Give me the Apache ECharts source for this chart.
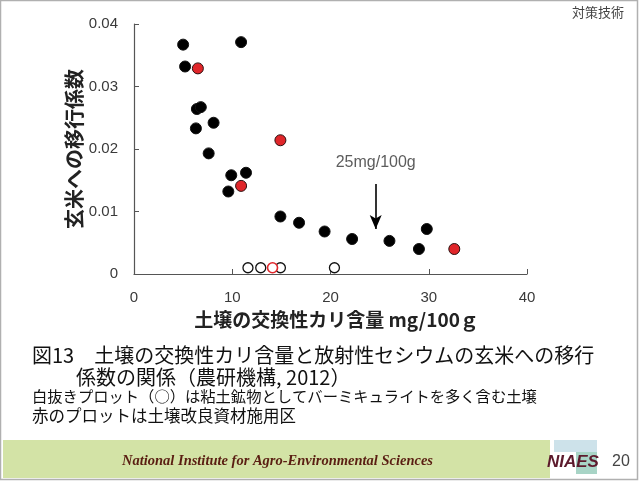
<!DOCTYPE html>
<html><head><meta charset="utf-8">
<script src="https://cdn.jsdelivr.net/npm/echarts@6/dist/echarts.min.js"></script>
<style>html,body{margin:0;padding:0;background:#fff}#c{width:640px;height:481px}</style>
</head><body><div id="c"></div>
<script>
// Data
const blackX = [5.0, 5.2, 10.9, 6.4, 6.8, 6.3, 8.1, 7.6, 9.9, 11.4, 9.6, 14.9, 16.8, 19.4, 22.2, 26.0, 29.0, 29.8];
const blackY = [0.0367, 0.0332, 0.0371, 0.0264, 0.0267, 0.0233, 0.0242, 0.0193, 0.0158, 0.0162, 0.0132, 0.0092, 0.0082, 0.0068, 0.0056, 0.0053, 0.0040, 0.0072];
const redX = [6.5, 10.9, 14.9, 32.6];
const redY = [0.0329, 0.0141, 0.0214, 0.0040];
const openX = [11.6, 12.9, 14.9, 20.4];
const openY = [0.0010, 0.0010, 0.0010, 0.0010];
const openRedX = [14.1];
const openRedY = [0.0010];
const arrowX = 24.6, arrowTop = 0.0144, arrowBottom = 0.0072;
const arrowLabel = '25mg/100g', arrowLabelY = 0.0178;
const xTicks = [0, 10, 20, 30, 40];
const yTicks = [0, 0.01, 0.02, 0.03, 0.04];

const zip = (xs, ys) => xs.map((x, i) => [x, ys[i]]);
const jp = '"Noto Sans CJK JP", "Noto Sans", sans-serif';
const chart = echarts.init(document.getElementById('c'));
chart.setOption({
  animation: false,
  grid: {left: 134, right: 113, top: 24, bottom: 207},
  xAxis: {
    type: 'value', min: 0, max: 40, interval: 10,
    name: '土壌の交換性カリ含量 mg/100ｇ', nameLocation: 'middle', nameGap: 36,
    nameTextStyle: {fontFamily: jp, fontSize: 19, fontWeight: 'bold', color: '#222', padding: [0, 0, 0, 12]},
    axisLine: {lineStyle: {color: '#555', width: 1.2}},
    axisTick: {inside: true, length: 5, lineStyle: {color: '#555'}},
    axisLabel: {color: '#3a3a3a', fontSize: 15, margin: 16, fontFamily: 'Liberation Sans, sans-serif', formatter: v => xTicks.includes(v) ? String(v) : ''},
    splitLine: {show: false}
  },
  yAxis: {
    type: 'value', min: 0, max: 0.04, interval: 0.01,
    name: '玄米への移行係数', nameLocation: 'middle', nameGap: 50, nameRotate: 90, nameMoveOverlap: false,
    nameTextStyle: {fontFamily: jp, fontSize: 20, fontWeight: 'bold', color: '#222'},
    axisLine: {show: true, lineStyle: {color: '#555', width: 1.2}},
    axisTick: {show: true, inside: true, length: 5, lineStyle: {color: '#555'}},
    axisLabel: {color: '#3a3a3a', fontSize: 15, margin: 16, fontFamily: 'Liberation Sans, sans-serif',
      formatter: v => { const t = yTicks.find(k => Math.abs(k - v) < 1e-9); return t === undefined ? '' : (t === 0 ? '0' : t.toFixed(2)); }},
    splitLine: {show: false}
  },
  series: [
    {type: 'scatter', data: zip(blackX, blackY), symbolSize: 11,
      itemStyle: {color: '#000', borderColor: '#111', borderWidth: 1, opacity: 1},
      markLine: {silent: true, symbol: ['none', 'arrow'], symbolSize: [9, 14],
        lineStyle: {color: '#000', width: 1.6, type: 'solid'}, label: {show: false},
        data: [[{coord: [arrowX, arrowTop]}, {coord: [arrowX, arrowBottom]}]]}},
    {type: 'scatter', data: zip(redX, redY), symbolSize: 11,
      itemStyle: {color: '#e0262a', borderColor: '#2a1010', borderWidth: 1, opacity: 1}},
    {type: 'scatter', data: zip(openX, openY), symbolSize: 10,
      itemStyle: {color: '#fff', borderColor: '#111', borderWidth: 1.3, opacity: 1}},
    {type: 'scatter', data: zip(openRedX, openRedY), symbolSize: 10,
      itemStyle: {color: '#fff', borderColor: '#e0262a', borderWidth: 1.6, opacity: 1}},
    {type: 'scatter', data: [[arrowX, arrowLabelY]], symbolSize: 0, silent: true,
      label: {show: true, position: 'inside', formatter: arrowLabel, color: '#333', fontSize: 16, fontFamily: 'Liberation Sans, sans-serif'}}
  ],
  graphic: [
    {type: 'rect', shape: {x: 0.5, y: 0.5, width: 637, height: 479}, style: {fill: 'none', stroke: '#b0b0b0', lineWidth: 1.5}, z: 0},
    {type: 'text', right: 16, top: 6, style: {text: '対策技術', font: '13px ' + jp, fill: '#444'}},
    {type: 'text', left: 32, top: 345, style: {text: '図13　土壌の交換性カリ含量と放射性セシウムの玄米への移行', font: '20px ' + jp, fill: '#111'}},
    {type: 'text', left: 76, top: 367, style: {text: '係数の関係（農研機構, 2012）', font: '20px ' + jp, fill: '#111'}},
    {type: 'text', left: 32, top: 389, style: {text: '白抜きプロット（○）は粘土鉱物としてバーミキュライトを多く含む土壌', font: '15.3px ' + jp, fill: '#111'}},
    {type: 'text', left: 32, top: 407, style: {text: '赤のプロットは土壌改良資材施用区', font: '16.5px ' + jp, fill: '#111'}},
    {type: 'rect', shape: {x: 3, y: 440, width: 547, height: 38}, style: {fill: '#d3e3a6'}},
    {type: 'text', left: 122, top: 454, style: {text: 'National Institute for Agro-Environmental Sciences', font: 'italic bold 14.5px "Liberation Serif", serif', fill: '#5a1e12'}},
    {type: 'rect', shape: {x: 554, y: 440, width: 43, height: 12}, style: {fill: '#cde2ea'}},
    {type: 'rect', shape: {x: 576, y: 452, width: 21, height: 22}, style: {fill: '#a8d4c6'}},
    {type: 'text', left: 547, top: 454, style: {text: 'NIAES', font: 'italic bold 17px "Liberation Sans", sans-serif', fill: '#5c1a2c'}},
    {type: 'text', left: 612, top: 454, style: {text: '20', font: '16px "Liberation Sans", sans-serif', fill: '#444'}}
  ]
});
</script></body></html>
